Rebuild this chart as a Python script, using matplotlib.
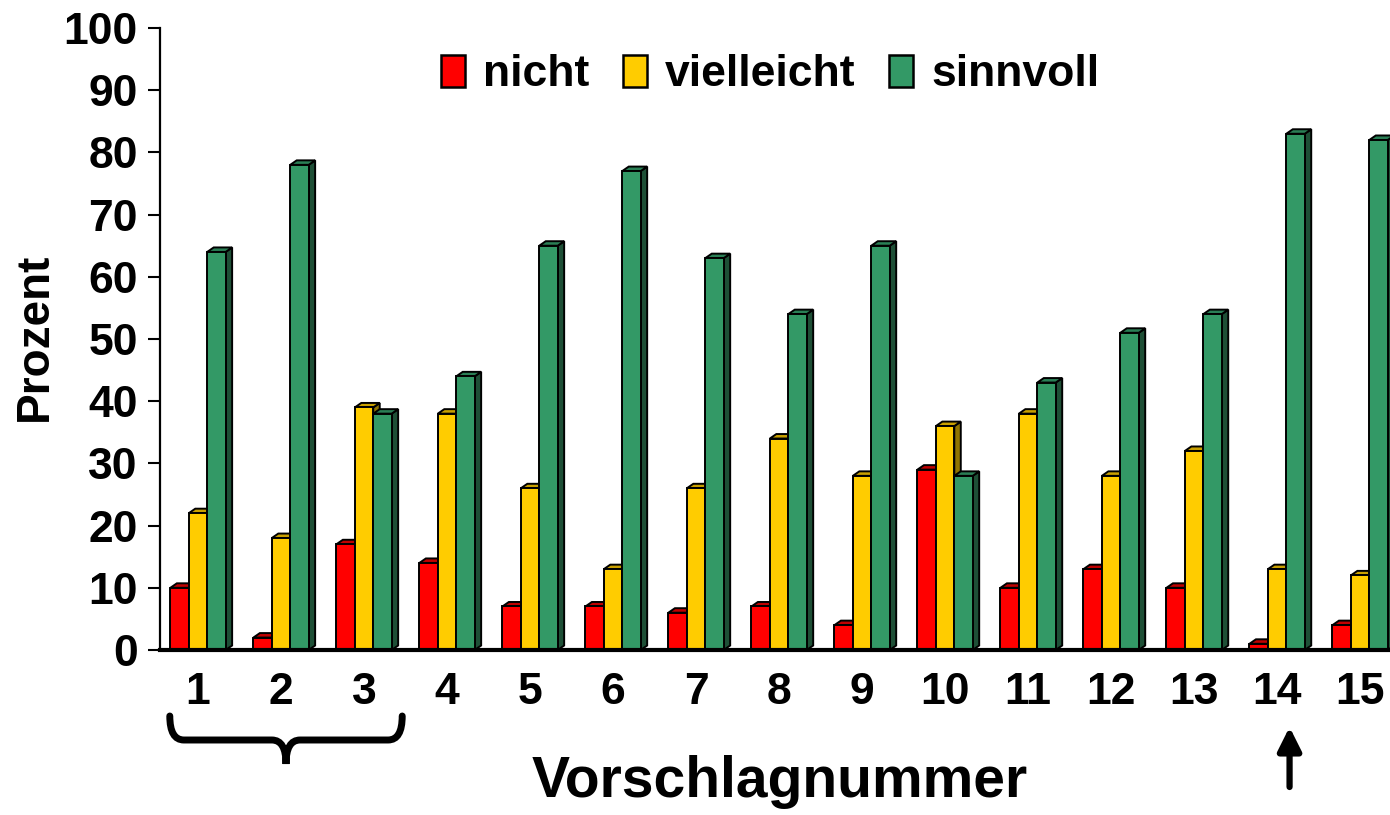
"""
Vorschlagnummer survey chart: share of answers nicht / vielleicht / sinnvoll
per proposal, drawn as pseudo-3D grouped bars.
"""
import numpy as np
import matplotlib
matplotlib.use("Agg")
import matplotlib.pyplot as plt
from matplotlib.patches import Polygon, PathPatch, Rectangle
from matplotlib.path import Path
import matplotlib.transforms as mtransforms

# ---- data ------------------------------------------------------------------
proposals = list(range(1, 16))
nicht = [10, 2, 17, 14, 7, 7, 6, 7, 4, 29, 10, 13, 10, 1, 4]
vielleicht = [22, 18, 39, 38, 26, 13, 26, 34, 28, 36, 38, 28, 32, 13, 12]
sinnvoll = [64, 78, 38, 44, 65, 77, 63, 54, 65, 28, 43, 51, 54, 83, 82]
series_names = ["nicht", "vielleicht", "sinnvoll"]
y_ticks = list(range(0, 101, 10))

# front / top / side shades per series
colors = {
    "nicht": ("#FF0000", "#C00000", "#800000"),
    "vielleicht": ("#FFCC00", "#C9A000", "#8F7400"),
    "sinnvoll": ("#339966", "#2A7F55", "#1E4F36"),
}

plt.rcParams["font.family"] = ["Liberation Sans", "DejaVu Sans"]
plt.rcParams["font.weight"] = "bold"

W, H = 1390, 815
fig = plt.figure(figsize=(W / 100, H / 100), dpi=100)
ax = fig.add_axes([160 / W, (H - 650) / H, 1 - 160 / W, (650 - 28) / H])

x = np.array(proposals, dtype=float)
bw = 0.222            # front face width (data units)
dx, dy = 0.078, 0.72  # depth offset of top / side faces
edge_lw = 1.4

values = [nicht, vielleicht, sinnvoll]
z = 2
for i, (name, vals) in enumerate(zip(series_names, values)):
    front, top, side = colors[name]
    lefts = x + (i - 1.5) * bw
    for x0, h in zip(lefts, vals):
        x1 = x0 + bw
        # each bar drawn on a higher zorder so the next bar hides its side
        ax.add_patch(Polygon([(x1, 0), (x1 + dx, dy), (x1 + dx, h + dy), (x1, h)],
                             closed=True, fc=side, ec="black", lw=edge_lw,
                             zorder=z + i * 0.1, clip_on=False))
        ax.add_patch(Polygon([(x0, h), (x1, h), (x1 + dx, h + dy), (x0 + dx, h + dy)],
                             closed=True, fc=top, ec="black", lw=edge_lw,
                             zorder=z + i * 0.1, clip_on=False))
    ax.bar(lefts, vals, width=bw, align="edge", color=front, edgecolor="black",
           linewidth=edge_lw, zorder=z + i * 0.1 + 0.05, label=name)

ax.set_xlim(0.542, 15.36)
ax.set_ylim(0, 100)
ax.set_yticks(y_ticks)
ax.set_yticklabels([str(t) for t in y_ticks], fontsize=32, fontweight="bold")
ax.set_xticks(x)
ax.set_xticklabels([str(p) for p in proposals], fontsize=32, fontweight="bold")
ax.tick_params(axis="y", length=9, width=1.5, pad=7, direction="out")
ax.tick_params(axis="x", length=0, pad=16)

for s in ["top", "right"]:
    ax.spines[s].set_visible(False)
ax.spines["left"].set_linewidth(1.6)
ax.spines["bottom"].set_linewidth(3.0)
ax.spines["bottom"].set_zorder(5)

# legend
handles = [Rectangle((0, 0), 1, 1, fc=colors[n][0], ec="black", lw=1.8)
           for n in series_names]
leg = ax.legend(handles, series_names, ncol=3, frameon=False, loc="center",
                bbox_to_anchor=(770 / W, 1 - 75 / H), bbox_transform=fig.transFigure,
                prop={"size": 32, "weight": "bold"}, handlelength=0.55,
                handleheight=0.75, handletextpad=0.4, columnspacing=0.75)

# axis titles
fig.text(35 / W, 1 - 337 / H, "Prozent", rotation=90, ha="center", va="center",
         fontsize=33, fontweight="bold")
fig.text(780 / W, 1 - 782 / H, "Vorschlagnummer", ha="center", va="center",
         fontsize=41, fontweight="bold")

# curly brace under proposals 1-3 (x in data, y in figure fraction)
btrans = mtransforms.blended_transform_factory(ax.transData, fig.transFigure)
xl, xr = x[0] - 0.34, x[2] + 0.46
xm = (xl + xr) / 2
yt, yb, ytip = 1 - 716 / H, 1 - 740 / H, 1 - 764 / H
r = 0.17
verts = [(xl, yt), (xl, yb), (xl + r, yb), (xm - r, yb), (xm, yb), (xm, ytip),
         (xm, yb), (xm + r, yb), (xr - r, yb), (xr, yb), (xr, yt)]
codes = [Path.MOVETO, Path.CURVE3, Path.CURVE3, Path.LINETO, Path.CURVE3, Path.CURVE3,
         Path.CURVE3, Path.CURVE3, Path.LINETO, Path.CURVE3, Path.CURVE3]
fig.add_artist(PathPatch(Path(verts, codes), transform=btrans, fc="none",
                         ec="black", lw=5, capstyle="round"))

# arrow pointing to proposal 14
ax.annotate("", xy=(x[13] + 0.15, 1 - 727 / H), xytext=(x[13] + 0.15, 1 - 787 / H),
            xycoords=btrans, textcoords=btrans,
            arrowprops=dict(arrowstyle="-|>,head_width=0.7,head_length=1.4",
                            lw=4.5, color="black", shrinkA=0, shrinkB=0))

fig.savefig("out.png", dpi=100)
